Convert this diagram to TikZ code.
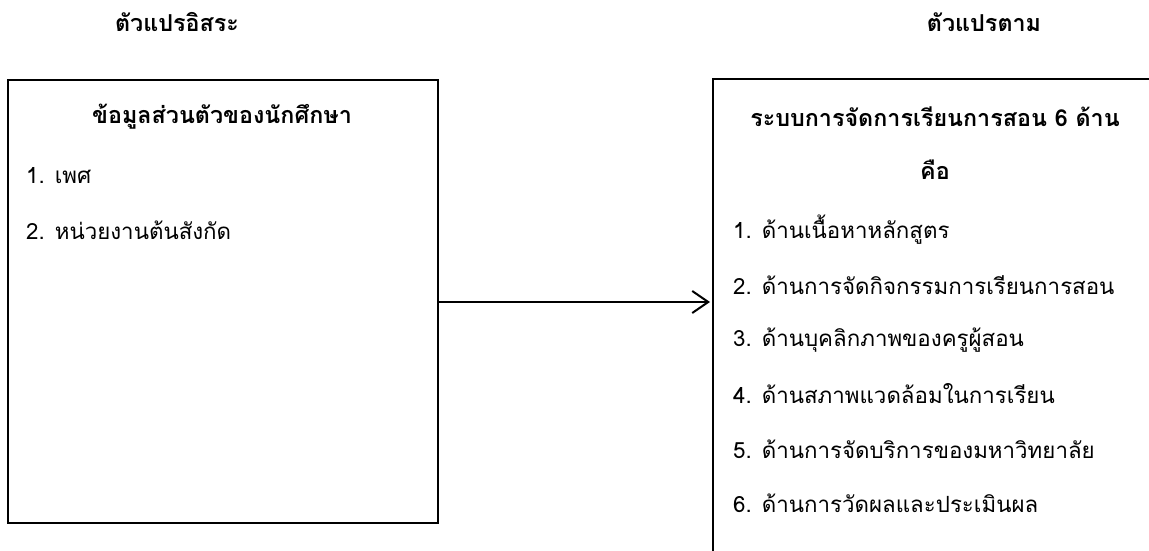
\documentclass[tikz,border=0pt]{standalone}
\usepackage{fontspec}
\newfontfamily\thaifont[Script=Thai]{Loma}
\usetikzlibrary{arrows.meta}
\begin{document}
\begin{tikzpicture}[x=1pt,y=-1pt,
  every node/.style={font=\thaifont\fontsize{22.3}{24}\selectfont, inner sep=0pt},
  head/.style={font=\thaifont\bfseries\fontsize{23.3}{25}\selectfont},
  item/.style={anchor=west},
  frame/.style={draw=black, line width=2pt},
  link/.style={line width=2pt, -{Straight Barb[length=16pt,width=22pt,line width=2pt]}}]
  \useasboundingbox (0,0) rectangle (1149,551);
  \fill[white] (0,0) rectangle (1149,551);
  \clip (0,0) rectangle (1149,551);

  % column headings
  \node[head] (indep) at (177,22) {ตัวแปรอิสระ};
  \node[head] (dep) at (984,22) {ตัวแปรตาม};

  % left box: personal data
  \node[frame, minimum width=430pt, minimum height=443pt, anchor=north west] (left) at (7,79) {};
  \node[head] (ltitle) at (222,117) {ข้อมูลส่วนตัวของนักศึกษา};
  \node[item] (l1) at (26,176) {1. เพศ};
  \node[item] (l2) at (26,230) {2. หน่วยงานต้นสังกัด};

  % right box: open at right and bottom
  \coordinate (rtl) at (713,79);
  \coordinate (rtr) at (1160,79);
  \coordinate (rbl) at (713,560);
  \draw[line width=2pt] (rtr) -- (rtl) -- (rbl);
  \node[head] (rtitle) at (935,117) {ระบบการจัดการเรียนการสอน 6 ด้าน};
  \node[head] (rtitle2) at (935,170) {คือ};
  \node[item] (r1) at (733,230) {1. ด้านเนื้อหาหลักสูตร};
  \node[item] (r2) at (733,285) {2. ด้านการจัดกิจกรรมการเรียนการสอน};
  \node[item] (r3) at (733,340) {3. ด้านบุคลิกภาพของครูผู้สอน};
  \node[item] (r4) at (733,394) {4. ด้านสภาพแวดล้อมในการเรียน};
  \node[item] (r5) at (733,449) {5. ด้านการจัดบริการของมหาวิทยาลัย};
  \node[item] (r6) at (733,503) {6. ด้านการวัดผลและประเมินผล};

  % arrow from left box to right box
  \coordinate (tip) at (710,302);
  \draw[link] (left.east |- tip) -- (tip);
\end{tikzpicture}
\end{document}
